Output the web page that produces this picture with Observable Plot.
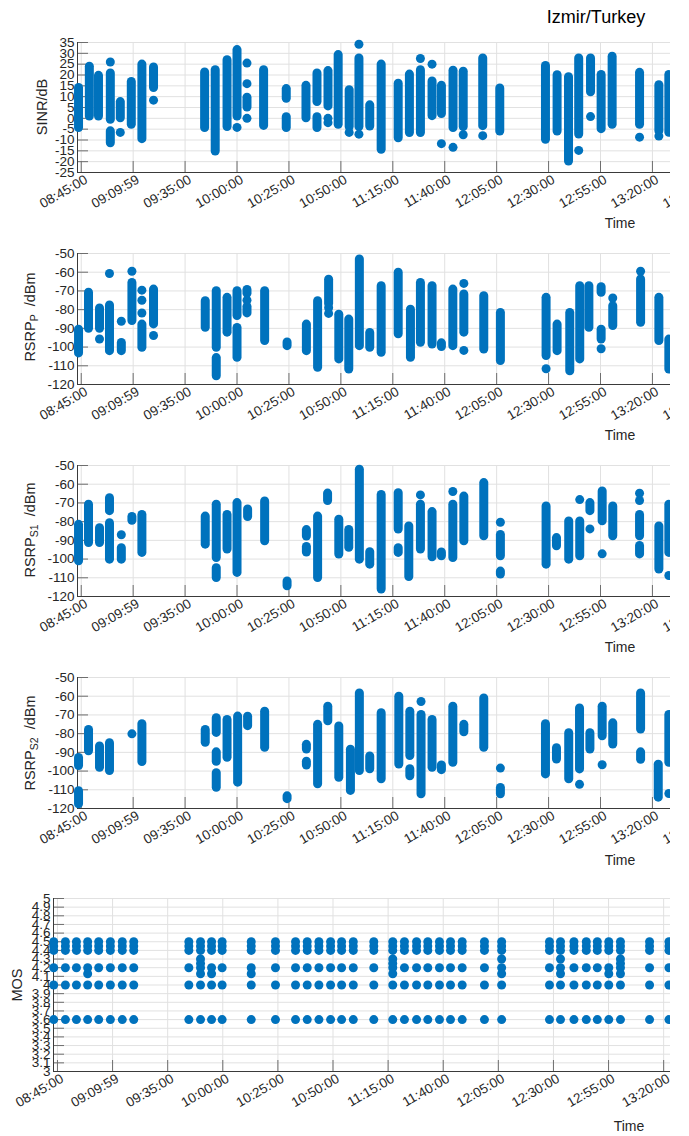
<!DOCTYPE html>
<html><head><meta charset="utf-8">
<script src="https://cdn.jsdelivr.net/npm/d3@7"></script>
<script src="https://cdn.jsdelivr.net/npm/@observablehq/plot@0.6"></script>
<style>
body{margin:0;background:#fff;font-family:"Liberation Sans",Arial,sans-serif;}
#root{position:relative;width:689px;height:1136px;overflow:hidden;background:#fff;}
.panel{position:absolute;left:0;}
.lbl{position:absolute;font-size:14px;color:#262626;white-space:nowrap;transform:translate(-50%,-50%);}
.ylab{position:absolute;font-size:14.5px;color:#262626;white-space:nowrap;transform:translate(-50%,-50%) rotate(-90deg);}
.ylab sub{font-size:10.5px;vertical-align:-3px;}
.title{position:absolute;font-size:18px;color:#000;white-space:nowrap;transform:translate(-50%,-50%);}
</style></head><body><div id="root"></div>
<script>
// time axis: minutes after 08:45:00
const xTickMinutes = [0,25,50,75,100,125,150,175,200,225,250,275,300];
const xTickLabels = ["08:45:00","09:09:59","09:35:00","10:00:00","10:25:00","10:50:00","11:15:00","11:40:00","12:05:00","12:30:00","12:55:00","13:20:00","13:45:00"];

const sinrTicks = [-25,-20,-15,-10,-5,0,5,10,15,20,25,30,35];
const rsrpTicks = [-120,-110,-100,-90,-80,-70,-60,-50];
const mosTicks = [3,3.1,3.2,3.3,3.4,3.5,3.6,3.7,3.8,3.9,4,4.1,4.2,4.3,4.4,4.5,4.6,4.7,4.8,4.9,5];

// SINR columns [time, low, high] and single points [time, value]
const sinrSegs = [
[-1.3,-4.5,14],[3.9,0.8,23.8],[8.3,0.8,19.6],[14.0,-0.7,20.7],[14.0,-11.5,-6],[18.8,0,7.5],
[24.1,-3,16.8],[29.2,-9.6,24.8],[34.8,14,23.5],[59.4,-4.5,21.2],[64.5,-15.3,22.2],[70.2,-4,26.8],
[75.0,0.8,31.5],[79.8,5,9.5],[87.8,-3.5,22.2],[98.7,9,13.5],[98.7,-4.5,0.5],[108.2,0,15],
[113.5,7.5,20.7],[113.5,-4.5,0.5],[118.8,5.5,21.8],[123.7,-3,29.2],[129.0,-4,13],[133.7,-4,27.6],
[138.9,-3.8,6],[144.4,-14.5,24.8],[152.6,-9.2,16],[158.0,-6.8,20.2],[163.3,-6.8,22.2],[168.9,1,17],
[173.4,2,15],[179.0,-4.5,22],[183.9,-4,21.5],[193.3,-3.6,27.6],[201.5,-6.1,13.8],[223.5,-9.9,24.2],
[229.1,-6.1,19.9],[234.6,-19.9,19],[239.5,-7.5,27.6],[245.2,12,27.6],[250.3,-5,20],[255.6,-3,28.4],
[268.8,-3,21],[278.1,-6,15.3],[282.9,-6.7,20]
];
const sinrDots = [
[14.0,26],[18.8,-6.5],[34.8,8.4],[75.0,-4.2],[79.8,25.5],[79.8,16],[79.8,0],[118.8,0],[118.8,-2],
[129.0,-6.5],[133.7,34.2],[133.7,-7.3],[163.3,27.6],[168.9,25],[173.4,-11.7],[179.0,-13.4],[183.9,-7.6],
[193.3,-8],[239.5,-14.8],[245.2,0.8],[268.8,-8.7],[278.1,-8.2]
];

// RSRP_P
const rsrpPSegs = [
[-1.3,-103.4,-90.7],[3.5,-90.2,-71],[8.8,-90.2,-79.4],[13.6,-102.2,-77.8],[19.3,-102.2,-97.8],
[24.4,-86.1,-65.7],[29.2,-100.4,-88],[34.8,-87.9,-69.3],[59.7,-89.7,-75.5],[65.0,-100.4,-70.2],
[65.0,-115.6,-105.9],[70.2,-92.3,-73.7],[75.0,-83.4,-70.2],[75.0,-105.7,-89.8],[79.8,-71.5,-69.5],
[79.8,-82,-78.5],[88.3,-96.8,-70.2],[99.1,-99.5,-97.5],[108.4,-102.2,-88],[113.8,-111.1,-75.5],
[119.1,-77,-64],[124.0,-106.6,-82.7],[128.8,-112,-85.3],[133.9,-99.5,-53.2],[138.9,-100.4,-92.5],
[144.4,-103.1,-67.5],[152.6,-93.2,-60.3],[158.5,-105.7,-80],[163.3,-97.7,-65.7],[168.9,-98.6,-67.5],
[173.4,-100,-98],[178.9,-99.5,-69.3],[184.2,-92.3,-71.9],[193.8,-101.3,-72.8],[201.8,-107.5,-81.8],
[223.8,-104.8,-73.7],[229.1,-102.2,-88],[235.2,-112.9,-81.8],[240.0,-106.6,-67.5],[244.4,-89.7,-67.5],
[250.3,-71,-68],[250.3,-96,-90.7],[255.9,-88.8,-78.2],[269.3,-87,-63.9],[278.1,-96.8,-73.7],[282.9,-112,-96]
];
const rsrpPDots = [
[8.8,-95.7],[13.6,-60.7],[19.3,-86.2],[24.4,-59.5],[29.2,-69.6],[29.2,-75],[29.2,-81.8],[34.8,-93.8],
[79.8,-75],[119.1,-79],[119.1,-82],[184.2,-66],[184.2,-101.8],[223.8,-111.6],[250.3,-100.9],
[255.9,-73.8],[269.3,-59.5]
];

// RSRP_S1
const s1Segs = [
[-1.3,-101.2,-81.7],[3.5,-91.4,-71],[8.8,-91.4,-83.5],[13.6,-74.4,-67.5],[13.6,-100.3,-80.8],
[19.3,-100.3,-94.2],[24.4,-79.5,-77.5],[29.2,-96.7,-76.4],[59.7,-92.3,-77.3],[65.0,-99.4,-71],
[65.0,-110.1,-104.9],[70.2,-94.9,-76.4],[75.0,-107.4,-70.1],[80.1,-77.5,-73.5],[88.3,-90.5,-69.2],
[99.1,-114.5,-112],[108.4,-88,-84.5],[108.4,-96.5,-93.5],[113.8,-110.1,-77.3],[118.6,-69,-65],
[124.0,-97.6,-79],[128.8,-94,-84.4],[133.9,-100.3,-52.3],[138.9,-103,-96.3],[144.4,-116.3,-65.7],
[152.6,-84.2,-64.8],[152.6,-96.7,-94.2],[157.7,-109.6,-82.6],[163.3,-94.9,-71],[168.9,-99,-74.9],
[173.4,-98.5,-96.5],[178.9,-99.4,-71],[184.2,-90.5,-66.6],[193.8,-87.8,-59.4],[201.8,-98.5,-87.1],
[201.8,-108.3,-106.7],[223.8,-103,-71.9],[228.8,-93.2,-88.8],[234.7,-100.3,-79.9],[240.0,-98.5,-79.9],
[244.9,-74.4,-70.1],[250.8,-79.8,-63.9],[255.9,-87.8,-71.9],[268.8,-87.8,-76.4],[268.8,-97.5,-93],
[278.1,-105.6,-82.6],[282.9,-96.7,-71]
];
const s1Dots = [
[19.3,-87],[163.3,-65.7],[178.9,-63.9],[201.8,-80.3],[240.0,-68.2],[244.9,-83.9],[250.8,-97.2],
[268.8,-64.8],[268.8,-68.7],[282.9,-108.8]
];

// RSRP_S2
const s2Segs = [
[-1.3,-97.3,-93],[-1.3,-117.7,-110.8],[3.5,-89.4,-78],[8.8,-98.2,-86.9],[13.6,-100,-85.1],
[29.2,-95.2,-75],[59.7,-84.9,-78],[65.0,-79.6,-71.8],[65.0,-95,-90],[65.0,-108.9,-101.1],
[70.2,-92.9,-72.7],[75.3,-106.2,-70.9],[80.1,-76,-71],[88.3,-87.6,-68.3],[99.1,-115,-113.5],
[108.4,-88.5,-86],[108.4,-97,-95],[113.8,-107.1,-75.3],[118.7,-73.4,-65.6],[124.0,-103.6,-76.2],
[129.6,-110.6,-88.6],[133.9,-100,-58.5],[138.9,-99,-92.2],[144.4,-104.4,-69.1],[152.9,-96.5,-60.3],
[158.2,-92,-68.3],[158.2,-102.8,-99],[163.6,-112.4,-70],[168.9,-98.2,-72.7],[173.4,-99.5,-97],
[178.9,-95.6,-65.6],[184.2,-79.3,-75.3],[193.8,-87.6,-61.2],[201.8,-112.4,-109],[223.5,-101.8,-75],
[228.8,-93.8,-87.8],[234.7,-104.4,-79.8],[239.9,-99.1,-66.5],[244.9,-88.5,-79.8],[250.8,-81.4,-65.6],
[255.9,-85.8,-74.5],[269.3,-77.8,-58.5],[269.3,-94,-90],[277.8,-114.2,-96.6],[282.9,-95.6,-70]
];
const s2Dots = [[24.4,-80.1],[163.6,-62.8],[201.8,-98.4],[239.9,-107.1],[250.8,-96.6],[282.9,-112]];

// MOS: test call times, the score levels every call reached, and extra scores
const mosTimes = [-1.7,3.6,8.6,13.7,18.7,24.0,29.4,34.6,59.6,64.9,69.9,74.7,87.9,98.9,108,113.3,118.6,123.9,128.9,134.2,143.5,152.1,157.4,162.9,168.0,173.3,178.3,183.6,193.7,201.5,223.2,228.2,234.3,239.9,244.9,250.1,255.4,268.6,277.4];
const mosLevels = [4.5,4.45,4.4,4.2,4.0,3.6];
const mosExtra = [[13.7,4.13],[64.9,4.3],[64.9,4.25],[64.9,4.13],[69.9,4.13],[87.9,4.13],[152.1,4.3],[152.1,4.25],[152.1,4.13],[201.5,4.3],[201.5,4.13],[228.2,4.3],[228.2,4.13],[250.1,4.13],[255.4,4.3],[255.4,4.25],[255.4,4.13]];

const BLUE = "#0072BD";
const root = document.getElementById("root");

function panel({top, left, plotH, xDomain, yDomain, yTicks, segs, dots}) {
  const marginTop = 10, marginBottom = 55;
  const chart = Plot.plot({
    width: 670, height: marginTop + plotH + marginBottom,
    marginLeft: left, marginRight: 0, marginTop, marginBottom,
    style: {fontFamily: "'Liberation Sans', Arial, sans-serif", fontSize: "13.5px", color: "#262626", background: "transparent"},
    x: {domain: xDomain},
    y: {domain: yDomain},
    marks: [
      Plot.gridY({ticks: yTicks, stroke: "#e1e1e1", strokeOpacity: 1}),
      Plot.gridX({ticks: xTickMinutes, stroke: "#e1e1e1", strokeOpacity: 1}),
      Plot.axisY({ticks: yTicks, tickSize: -11, tickPadding: 14, tickFormat: d => String(d), label: null, stroke: "#6e6e6e"}),
      Plot.axisX({ticks: xTickMinutes, tickSize: -11, tickFormat: () => "", label: null, stroke: "#6e6e6e"}),
      Plot.axisX({ticks: xTickMinutes, tickSize: 0, tickPadding: 6, dx: 5, tickRotate: -30, tickFormat: d => xTickLabels[xTickMinutes.indexOf(d)], label: null}),
      Plot.ruleX([xDomain[0]], {stroke: "#3a3a3a"}),
      Plot.ruleY([yDomain[0]], {stroke: "#3a3a3a"}),
      Plot.ruleX(segs, {x: d => d[0], y1: d => d[1], y2: d => d[2], stroke: BLUE, strokeWidth: 9, strokeLinecap: "round"}),
      Plot.dot(dots, {x: d => d[0], y: d => d[1], r: 4.5, fill: BLUE, stroke: "none"})
    ]
  });
  chart.classList.add("panel");
  chart.style.top = (top - marginTop) + "px";
  chart.style.position = "absolute";
  root.appendChild(chart);
}

const xMain = [-1.8, 283.7];
panel({top: 42, left: 77, plotH: 130, xDomain: xMain, yDomain: [-25, 35], yTicks: sinrTicks, segs: sinrSegs, dots: sinrDots});
panel({top: 253, left: 77, plotH: 131, xDomain: xMain, yDomain: [-120, -50], yTicks: rsrpTicks, segs: rsrpPSegs, dots: rsrpPDots});
panel({top: 465, left: 77, plotH: 131, xDomain: xMain, yDomain: [-120, -50], yTicks: rsrpTicks, segs: s1Segs, dots: s1Dots});
panel({top: 677, left: 77, plotH: 131, xDomain: xMain, yDomain: [-120, -50], yTicks: rsrpTicks, segs: s2Segs, dots: s2Dots});
const mosDots = mosTimes.flatMap(t => mosLevels.map(v => [t, v])).concat(mosExtra);
panel({top: 898, left: 53, plotH: 173, xDomain: [-1.8, 278.1], yDomain: [3, 5], yTicks: mosTicks, segs: [], dots: mosDots});

function addDiv(cls, html, x, y) {
  const d = document.createElement("div");
  d.className = cls; d.innerHTML = html;
  d.style.left = x + "px"; d.style.top = y + "px";
  root.appendChild(d);
}
addDiv("title", "Izmir/Turkey", 596, 17);
addDiv("ylab", "SINR/dB", 42, 107);
addDiv("ylab", "RSRP<sub>P</sub>&nbsp;&nbsp;/dBm", 31, 317);
addDiv("ylab", "RSRP<sub>S1</sub>&nbsp;&nbsp;/dBm", 31, 530);
addDiv("ylab", "RSRP<sub>S2</sub>&nbsp;&nbsp;/dBm", 31, 743);
addDiv("ylab", "MOS", 17, 985);
addDiv("lbl", "Time", 620, 223);
addDiv("lbl", "Time", 620, 435);
addDiv("lbl", "Time", 620, 647);
addDiv("lbl", "Time", 620, 860);
addDiv("lbl", "Time", 629, 1126);
</script>
</body></html>
